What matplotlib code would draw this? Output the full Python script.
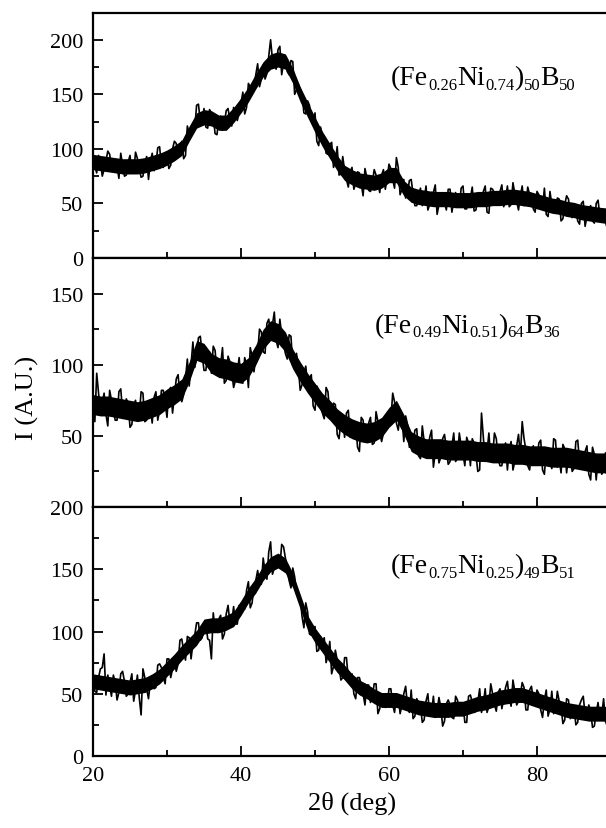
import numpy as np
import matplotlib
matplotlib.use("Agg")
import matplotlib.pyplot as plt
from matplotlib.ticker import MultipleLocator, FixedLocator

plt.rcParams['font.family'] = ['Liberation Serif', 'DejaVu Serif']

# 2-theta grid (deg), 0.25 deg steps
two_theta = np.arange(20.0, 90.001, 0.25)
# coarse grid for the dense core of each trace, 1 deg steps
two_theta_core = np.arange(20.0, 90.001, 1.0)

# (Fe0.26Ni0.74)50B50
int_top = [96, 84, 78, 94, 90, 75, 81, 89, 98, 95, 83, 79, 90, 84, 73, 96, 85, 75, 76, 88,
           94, 79, 79, 97, 91, 82, 74, 75, 87, 93, 72, 88, 96, 80, 86, 101, 102, 84, 83, 94,
           96, 82, 85, 100, 107, 105, 94, 98, 107, 91, 94, 121, 114, 118, 114, 118, 140, 141, 125, 125,
           137, 120, 119, 136, 133, 130, 114, 113, 127, 130, 117, 123, 135, 137, 126, 121, 138, 135, 126, 133,
           142, 152, 132, 138, 160, 157, 151, 156, 168, 178, 157, 164, 177, 164, 169, 185, 200, 182, 180, 173,
           191, 194, 168, 179, 181, 171, 168, 181, 180, 150, 154, 159, 155, 150, 133, 132, 144, 140, 126, 122,
           133, 107, 103, 120, 112, 108, 96, 95, 104, 106, 83, 89, 102, 76, 77, 93, 80, 72, 65, 79,
           83, 63, 68, 79, 78, 68, 57, 82, 74, 62, 61, 69, 81, 76, 69, 60, 76, 81, 63, 73,
           86, 82, 72, 64, 92, 83, 58, 63, 72, 55, 58, 71, 72, 59, 48, 48, 57, 64, 48, 52,
           66, 44, 49, 60, 60, 67, 40, 49, 58, 56, 51, 44, 63, 63, 42, 52, 60, 47, 47, 64,
           66, 45, 45, 56, 55, 65, 43, 44, 59, 52, 50, 61, 66, 42, 41, 64, 63, 59, 53, 49,
           61, 67, 47, 53, 66, 47, 49, 69, 59, 52, 44, 57, 66, 48, 50, 65, 58, 59, 45, 42,
           61, 58, 48, 46, 64, 40, 38, 61, 49, 47, 41, 55, 54, 34, 36, 49, 57, 54, 40, 37,
           49, 46, 34, 31, 50, 52, 29, 38, 44, 48, 34, 32, 50, 53, 38, 38, 45, 33, 27, 43,
           43]
core_top_lo = [81, 80, 79, 78, 77, 77, 77, 78, 80, 82, 85, 89, 94, 107, 119, 122, 121, 117, 117, 124,
               133, 143, 155, 166, 173, 175, 173, 160, 143, 129, 115, 102, 91, 80, 71, 67, 64, 63, 62, 64,
               69, 69, 57, 51, 49, 48, 47, 47, 47, 46, 46, 46, 47, 47, 48, 48, 49, 49, 48, 47,
               45, 43, 41, 40, 38, 37, 35, 34, 33, 32, 32]
core_top_hi = [95, 94, 93, 92, 91, 91, 91, 92, 94, 96, 99, 103, 108, 121, 133, 136, 135, 131, 131, 138,
               147, 157, 169, 180, 187, 189, 187, 174, 157, 143, 129, 116, 105, 94, 85, 81, 78, 77, 76, 78,
               83, 83, 71, 65, 63, 62, 61, 61, 61, 60, 60, 60, 61, 61, 62, 62, 63, 63, 62, 61,
               59, 57, 55, 54, 52, 51, 49, 48, 47, 46, 46]

# (Fe0.49Ni0.51)64B36
int_mid = [65, 60, 94, 80, 68, 73, 80, 65, 57, 82, 75, 69, 61, 61, 81, 83, 67, 64, 76, 73,
           56, 58, 72, 75, 61, 64, 81, 80, 60, 61, 72, 70, 59, 77, 81, 61, 68, 82, 82, 73,
           63, 82, 84, 66, 78, 90, 93, 78, 74, 79, 90, 104, 85, 100, 116, 98, 105, 119, 120, 107,
           96, 96, 108, 109, 94, 113, 110, 94, 95, 100, 112, 87, 89, 106, 102, 95, 84, 89, 95, 105,
           88, 87, 105, 100, 84, 112, 106, 95, 105, 108, 125, 123, 109, 108, 129, 132, 120, 128, 137, 117,
           112, 132, 121, 115, 108, 104, 121, 120, 99, 98, 108, 98, 82, 86, 94, 99, 86, 90, 93, 71,
           68, 85, 82, 70, 66, 62, 84, 81, 65, 66, 73, 72, 51, 48, 61, 62, 49, 66, 68, 49,
           49, 57, 58, 42, 39, 63, 61, 48, 50, 59, 63, 44, 45, 67, 60, 53, 46, 52, 62, 65,
           58, 61, 80, 74, 59, 54, 66, 63, 46, 64, 58, 42, 42, 44, 54, 55, 36, 34, 57, 46,
           40, 36, 49, 54, 28, 38, 46, 31, 35, 48, 51, 41, 30, 32, 43, 52, 32, 34, 52, 43,
           37, 29, 49, 45, 29, 48, 45, 37, 25, 26, 66, 49, 32, 39, 52, 33, 36, 52, 48, 34,
           29, 29, 39, 45, 26, 41, 46, 26, 32, 43, 51, 36, 60, 48, 40, 29, 26, 38, 43, 31,
           32, 45, 47, 26, 23, 40, 38, 33, 27, 48, 47, 28, 34, 24, 44, 41, 24, 36, 39, 25,
           27, 46, 47, 32, 30, 27, 39, 43, 23, 19, 42, 37, 19, 34, 35, 23, 26, 38, 38, 26,
           24]
core_mid_lo = [65, 64, 64, 63, 62, 61, 60, 61, 63, 65, 69, 72, 76, 88, 103, 101, 94, 91, 90, 88,
               87, 91, 100, 111, 117, 115, 109, 97, 88, 80, 73, 66, 61, 55, 51, 48, 46, 45, 46, 49,
               56, 61, 51, 39, 36, 34, 34, 34, 33, 33, 33, 33, 32, 32, 31, 31, 31, 30, 30, 29,
               29, 29, 28, 28, 28, 27, 26, 25, 24, 24, 23]
core_mid_hi = [79, 78, 78, 77, 76, 75, 74, 75, 77, 79, 83, 86, 90, 102, 117, 115, 108, 105, 104, 102,
               101, 105, 114, 125, 131, 129, 123, 111, 102, 94, 87, 80, 75, 69, 65, 62, 60, 59, 60, 63,
               70, 75, 65, 53, 50, 48, 48, 48, 47, 47, 47, 47, 46, 46, 45, 45, 45, 44, 44, 43,
               43, 43, 42, 42, 42, 41, 40, 39, 38, 38, 37]

# (Fe0.75Ni0.25)49B51
int_bot = [65, 52, 51, 63, 70, 71, 82, 49, 65, 56, 48, 65, 59, 45, 51, 66, 68, 60, 48, 50,
           59, 66, 44, 53, 65, 47, 33, 70, 63, 54, 46, 60, 63, 54, 55, 73, 74, 71, 63, 58,
           78, 78, 63, 70, 77, 68, 74, 93, 94, 84, 77, 96, 95, 78, 90, 97, 107, 107, 93, 95,
           107, 107, 94, 93, 78, 115, 101, 101, 110, 113, 94, 98, 114, 121, 107, 107, 120, 106, 106, 121,
           121, 118, 118, 133, 140, 119, 123, 137, 141, 149, 139, 138, 159, 148, 142, 164, 172, 146, 151, 161,
           158, 152, 170, 168, 159, 148, 141, 135, 151, 144, 131, 130, 127, 112, 103, 123, 116, 98, 97, 102,
           104, 84, 85, 96, 91, 95, 75, 81, 92, 66, 72, 85, 77, 72, 61, 63, 79, 79, 62, 58,
           66, 50, 46, 63, 63, 57, 50, 41, 57, 57, 43, 48, 58, 58, 34, 38, 46, 47, 39, 40,
           54, 54, 41, 35, 48, 49, 34, 41, 50, 56, 40, 35, 53, 30, 32, 46, 43, 40, 27, 29,
           44, 50, 32, 35, 48, 31, 36, 47, 39, 24, 28, 42, 45, 41, 31, 30, 48, 45, 35, 34,
           42, 27, 27, 48, 49, 43, 35, 36, 43, 54, 35, 42, 54, 35, 40, 58, 50, 41, 36, 51,
           54, 38, 46, 55, 60, 46, 40, 61, 52, 41, 44, 49, 59, 55, 37, 37, 53, 56, 45, 44,
           53, 50, 37, 31, 45, 53, 32, 38, 52, 34, 37, 52, 44, 40, 26, 29, 46, 45, 30, 33,
           40, 25, 27, 41, 45, 48, 33, 30, 41, 36, 23, 24, 35, 43, 29, 33, 46, 28, 24, 44,
           36]
core_bot_lo = [54, 53, 52, 51, 50, 49, 50, 51, 54, 58, 64, 70, 77, 83, 89, 98, 99, 99, 101, 104,
               113, 123, 131, 141, 148, 151, 147, 135, 118, 101, 91, 83, 75, 67, 61, 54, 49, 46, 42, 39,
               39, 39, 37, 35, 33, 32, 31, 31, 31, 32, 32, 34, 36, 37, 39, 41, 42, 43, 43, 41,
               39, 37, 35, 33, 31, 30, 29, 28, 28, 28, 27]
core_bot_hi = [66, 65, 64, 63, 62, 61, 62, 63, 66, 70, 76, 82, 89, 95, 101, 110, 111, 111, 113, 116,
               125, 135, 143, 153, 160, 163, 159, 147, 130, 113, 103, 95, 87, 79, 73, 66, 61, 58, 54, 51,
               51, 51, 49, 47, 45, 44, 43, 43, 43, 44, 44, 46, 48, 49, 51, 53, 54, 55, 55, 53,
               51, 49, 47, 45, 43, 42, 41, 40, 40, 40, 39]

# sample names: (text, is_subscript)
labels = [[('(Fe', 0), ('0.26', 1), ('Ni', 0), ('0.74', 1), (')', 0), ('50', 1), ('B', 0), ('50', 1)],
          [('(Fe', 0), ('0.49', 1), ('Ni', 0), ('0.51', 1), (')', 0), ('64', 1), ('B', 0), ('36', 1)],
          [('(Fe', 0), ('0.75', 1), ('Ni', 0), ('0.25', 1), (')', 0), ('49', 1), ('B', 0), ('51', 1)]]


def chem_label(ax, x, y, parts, big=20, small=12, drop=-2.0):
    first = ax.text(x, y, parts[0][0], fontsize=big, ha='left', va='baseline')
    prev, base = first, first
    for s, sub in parts[1:]:
        t = ax.annotate(s, xy=(1, 0), xycoords=(prev, base),
                        xytext=(0, drop if sub else 0), textcoords='offset points',
                        fontsize=small if sub else big, ha='left', va='bottom')
        prev = t
        if not sub:
            base = t


W, H = 606, 829
fig = plt.figure(figsize=(W / 100, H / 100), dpi=100)

left = 93 / W
width = 518 / W
# (top px, bottom px) of each panel
panels = [(13.5, 259), (259, 508), (508, 757)]
ylims = [225, 175, 200]
major = [[0, 50, 100, 150, 200], [50, 100, 150], [0, 50, 100, 150, 200]]
minor = [[25, 75, 125, 175], [25, 75, 125], [25, 75, 125, 175]]
label_pos = [(60.27, 159.6), (58.1, 123.2), (60.27, 147.8)]
series = [int_top, int_mid, int_bot]
cores = [(core_top_lo, core_top_hi), (core_mid_lo, core_mid_hi), (core_bot_lo, core_bot_hi)]

for k in range(3):
    t, b = panels[k]
    ax = fig.add_axes([left, 1 - b / H, width, (b - t) / H])
    ax.fill_between(two_theta_core, cores[k][0], cores[k][1], color='black', lw=0)
    ax.plot(two_theta, series[k], color='black', lw=1.2)
    ax.set_xlim(20, 90)
    ax.set_ylim(0, ylims[k])
    ax.yaxis.set_major_locator(FixedLocator(major[k]))
    ax.yaxis.set_minor_locator(FixedLocator(minor[k]))
    ax.xaxis.set_major_locator(MultipleLocator(20))
    ax.xaxis.set_minor_locator(MultipleLocator(10))
    ax.tick_params(which='both', direction='in', top=False, right=False,
                   width=1.3, labelsize=16, pad=7)
    ax.tick_params(which='major', length=7.5)
    ax.tick_params(which='minor', length=4.5)
    for s in ax.spines.values():
        s.set_linewidth(1.6)
    if k < 2:
        ax.tick_params(axis='x', labelbottom=False)
    chem_label(ax, label_pos[k][0], label_pos[k][1], labels[k])

fig.text(27 / W, 1 - 398 / H, 'I (A.U.)', rotation=90, fontsize=19,
         ha='center', va='center')
fig.text(352 / W, 1 - 803 / H, '2θ (deg)', fontsize=19, ha='center', va='center')

fig.savefig('out.png', dpi=100)
